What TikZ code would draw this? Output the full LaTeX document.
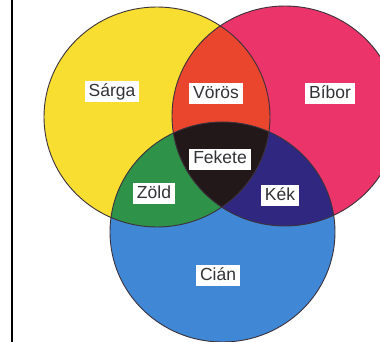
\documentclass[tikz,border=0pt]{standalone}
\usepackage{fontspec}
\setmainfont{Liberation Sans}
\definecolor{cyel}{RGB}{248,222,48}
\definecolor{cmag}{RGB}{234,52,106}
\definecolor{ccya}{RGB}{64,136,214}
\definecolor{cred}{RGB}{234,70,46}
\definecolor{cgrn}{RGB}{46,146,72}
\definecolor{cblu}{RGB}{48,40,128}
\definecolor{cblk}{RGB}{34,24,26}
\definecolor{ctxt}{RGB}{50,50,55}
\definecolor{cline}{RGB}{60,50,60}
\tikzset{
  lbl/.style={fill=white, text=ctxt, inner xsep=4pt, inner ysep=2.5pt,
    font=\fontsize{17.5}{18}\selectfont, text height=13pt, text depth=3pt},
  rim/.style={draw=cline, line width=0.9pt}
}
\begin{document}
\begin{tikzpicture}[x=1pt,y=-1pt]
\useasboundingbox (0,0) rectangle (380,342);
\fill[white] (0,0) rectangle (380,342);
\def\Ypath{(157,117) ellipse [x radius=113pt, y radius=110pt]}
\def\Mpath{(285,116) ellipse [x radius=113pt, y radius=110pt]}
\def\Cpath{(222.5,232) ellipse [x radius=112.5pt, y radius=110pt]}
\fill[cyel] \Ypath;
\fill[cmag] \Mpath;
\fill[ccya] \Cpath;
\begin{scope}
  \clip \Ypath;
  \fill[cred] \Mpath;
  \fill[cgrn] \Cpath;
\end{scope}
\begin{scope}
  \clip \Mpath;
  \fill[cblu] \Cpath;
\end{scope}
\begin{scope}
  \clip \Ypath;
  \clip \Mpath;
  \fill[cblk] \Cpath;
\end{scope}
\draw[rim] \Ypath;
\draw[rim] \Mpath;
\draw[rim] \Cpath;
\fill[black] (11,0) rectangle (13,342);
\node[lbl] (sarga) at (112,92) {Sárga};
\node[lbl] (voros) at (216,94) {Vörös};
\node[lbl] (bibor) at (330,94) {Bíbor};
\node[lbl] (fekete) at (220,159) {Fekete};
\node[lbl] (zold) at (154,193) {Zöld};
\node[lbl] (kek) at (280,195) {Kék};
\node[lbl] (cian) at (218,275) {Cián};
\end{tikzpicture}
\end{document}
